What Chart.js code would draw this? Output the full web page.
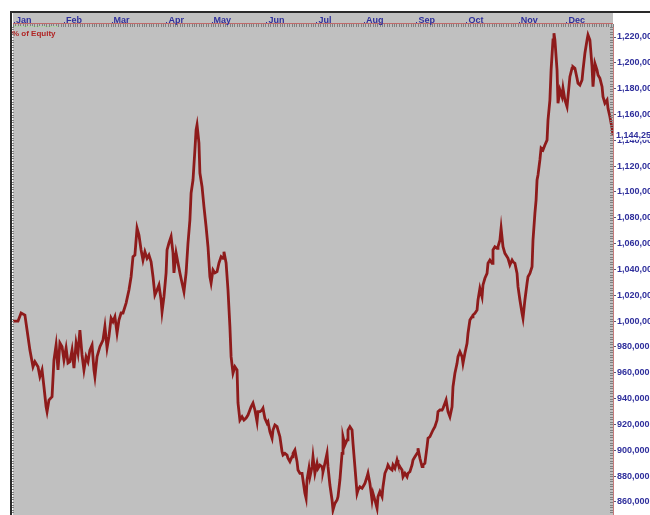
<!DOCTYPE html>
<html>
<head>
<meta charset="utf-8">
<title>% of Equity</title>
<script src="https://cdn.jsdelivr.net/npm/chart.js@4.4.1/dist/chart.umd.min.js"></script>
<style>
    html, body { margin: 0; padding: 0; background: #fff; }
    #wrap { width: 650px; height: 515px; }
</style>
</head>
<body>
<div id="wrap"><canvas id="equityChart" width="650" height="515"></canvas></div>
<script>
// month markers on the top axis (trading day where each month starts)
const monthLabels = ['Jan', 'Feb', 'Mar', 'Apr', 'May', 'Jun', 'Jul', 'Aug', 'Sep', 'Oct', 'Nov', 'Dec'];
const monthStartDay = [0, 21, 41, 64, 83, 106, 127, 147, 169, 190, 212, 232];

// right axis labels
const yTickValues = [860000, 880000, 900000, 920000, 940000, 960000, 980000, 1000000, 1020000, 1040000,
    1060000, 1080000, 1100000, 1120000, 1140000, 1160000, 1180000, 1200000, 1220000];

// equity curve
const tradingDay = [
    0, 2.1, 3.4, 5.0, 5.9, 7.1, 8.4, 9.2, 10.5, 11.3, 12.2, 13.0, 13.9, 14.3, 15.1, 16.4, 17.2, 18.1, 18.9, 19.7,
    20.6, 21.4, 22.3, 23.1, 23.9, 24.8, 25.6, 26.5, 27.3, 28.1, 29.0, 29.8, 30.7, 31.5, 32.3, 33.2, 34.0, 34.4, 35.3, 36.5,
    37.8, 38.6, 39.5, 40.3, 41.2, 42.0, 42.8, 43.7, 44.5, 45.4, 46.2, 47.5, 48.7, 49.6, 50.4, 51.2, 52.1, 52.9, 53.8, 54.6,
    55.4, 56.3, 57.1, 58.0, 58.8, 59.6, 60.5, 61.3, 62.2, 62.6, 63.4, 64.3, 64.7, 65.5, 66.4, 67.2, 67.6, 68.5, 69.3, 70.1,
    71.0, 71.8, 72.7, 73.5, 74.3, 74.8, 75.6, 76.4, 76.9, 77.3, 78.1, 78.5, 79.4, 80.2, 81.1, 81.9, 82.7, 83.2, 84.0, 84.8,
    85.7, 86.5, 87.4, 88.2, 88.6, 89.5, 90.3, 91.1, 91.6, 92.4, 93.2, 94.1, 94.5, 95.3, 96.2, 97.0, 97.9, 98.7, 100.0, 100.8,
    101.6, 102.5, 102.9, 103.7, 104.6, 105.0, 105.8, 106.7, 107.1, 107.9, 108.8, 109.2, 110.0, 110.9, 111.3, 112.1, 113.0, 113.4, 114.2, 115.1,
    115.5, 116.3, 117.2, 117.6, 118.4, 119.3, 119.7, 120.5, 121.4, 121.8, 122.6, 123.1, 123.5, 124.3, 124.7, 125.6, 126.0, 126.8, 127.7, 128.1,
    128.9, 129.8, 130.2, 131.0, 131.9, 132.3, 133.1, 134.0, 134.4, 135.2, 136.1, 136.5, 137.3, 138.2, 138.6, 139.4, 140.3, 140.7, 141.5, 142.4,
    142.8, 143.6, 144.5, 144.9, 145.7, 146.6, 147.0, 147.8, 148.7, 149.1, 149.9, 150.8, 151.2, 152.0, 152.9, 153.3, 154.1, 155.0, 155.4, 156.2,
    157.1, 157.5, 158.3, 159.2, 159.6, 160.4, 161.3, 161.7, 162.5, 163.4, 163.8, 164.6, 165.5, 165.9, 166.7, 167.6, 168.0, 168.8, 169.7, 170.1,
    170.9, 171.8, 172.2, 173.0, 173.9, 174.3, 175.1, 176.4, 177.2, 178.1, 178.5, 179.3, 180.2, 180.6, 181.4, 181.9, 182.7, 183.5, 184.4, 184.8,
    185.6, 186.5, 186.9, 187.7, 188.6, 189.0, 189.8, 190.7, 191.1, 191.9, 192.8, 193.2, 194.0, 194.9, 195.3, 196.1, 197.0, 197.4, 198.2, 199.1,
    199.5, 200.3, 201.2, 201.6, 202.4, 203.3, 203.7, 204.5, 205.0, 205.8, 206.6, 207.5, 207.9, 208.7, 209.6, 210.0, 210.8, 211.7, 212.1, 212.9,
    213.8, 214.2, 215.0, 215.9, 216.3, 217.1, 218.0, 218.4, 219.2, 219.7, 220.1, 220.5, 221.3, 221.8, 222.6, 223.4, 224.3, 224.7, 225.5, 226.0,
    226.8, 227.2, 227.6, 228.5, 228.9, 229.7, 230.6, 231.0, 231.8, 232.7, 233.1, 233.9, 234.8, 235.2, 236.0, 236.9, 237.3, 238.1, 239.0, 239.4,
    240.2, 241.1, 241.5, 242.3, 243.2, 243.6, 244.4, 245.3, 245.7, 246.5, 247.4, 247.8, 248.6, 249.5, 249.9, 250.7, 251.6, 252.0
];

const equity = [
    1000000, 1000000, 1006300, 1004700, 993100, 977600, 964700, 968600, 964700, 957000, 962200, 949200, 933700, 929900, 938900, 941500, 969900, 981500, 962200, 983100,
    980200, 969900, 979200, 967600, 968600, 977600, 963700, 983100, 975300, 993100, 973800, 962200, 972500, 968600, 977600, 981500, 962200, 957000, 972500, 980200,
    985400, 995700, 979200, 988000, 1002400, 999600, 1003400, 990800, 1000900, 1006300, 1006300, 1014000, 1024100, 1034400, 1049900, 1051200, 1072100, 1066700, 1055100, 1047300,
    1053700, 1048600, 1051200, 1046000, 1034400, 1020200, 1024100, 1028000, 1016400, 1007300, 1018900, 1037300, 1055100, 1060500, 1065400, 1052800, 1037300, 1052800, 1045000, 1037300,
    1029500, 1022800, 1037300, 1060500, 1078300, 1099200, 1109300, 1132500, 1148000, 1151900, 1137900, 1114700, 1104100, 1088600, 1073100, 1057600, 1034400, 1029500, 1039600, 1037300,
    1038300, 1045000, 1049900, 1048600, 1053700, 1045000, 1024100, 995700, 972500, 959800, 964700, 962200, 936600, 923400, 926000, 923400, 925000, 927300, 933700, 936600,
    931200, 922100, 929900, 929900, 931200, 932500, 924700, 920900, 922100, 914400, 909300, 915700, 919600, 918300, 915700, 910500, 898900, 896300, 897600, 896300,
    893800, 891200, 895000, 897600, 900200, 891200, 884700, 882200, 882200, 877000, 866700, 862800, 877000, 886000, 879500, 887300, 895000, 882200, 889900, 886000,
    888600, 887300, 883400, 889900, 897600, 887300, 873100, 861500, 853800, 858900, 861500, 864100, 877000, 897600, 910500, 904100, 908000, 915700, 918300, 915700,
    905400, 887300, 866700, 869200, 871800, 870600, 871800, 874400, 879500, 882200, 874400, 861500, 866700, 861500, 855100, 864100, 868000, 864100, 871800, 882200,
    886000, 888600, 886000, 884700, 888600, 886000, 892500, 889900, 887300, 884700, 879500, 882200, 879500, 882200, 883400, 888600, 892500, 895000, 897600, 901500,
    893800, 887300, 888600, 889900, 902800, 909300, 910500, 915700, 918300, 923400, 929900, 931200, 931200, 932500, 936400, 938900, 929900, 926000, 933700, 949200,
    959600, 967300, 972500, 976300, 972500, 967300, 975100, 982800, 990600, 1000900, 1003400, 1004700, 1006100, 1008600, 1016400, 1025400, 1018900, 1028000, 1033200, 1037000,
    1044800, 1047300, 1044800, 1055100, 1057600, 1056400, 1057600, 1062800, 1071900, 1057600, 1052500, 1049900, 1048600, 1043500, 1047300, 1046000, 1044800, 1037000, 1026700, 1016400,
    1006100, 1002200, 1016400, 1029300, 1034400, 1037000, 1042200, 1062800, 1083500, 1093800, 1109300, 1113200, 1124800, 1134000, 1132500, 1136400, 1140200, 1155700, 1171200, 1194400,
    1217700, 1222900, 1217700, 1194400, 1168700, 1179000, 1173800, 1180300, 1171200, 1166000, 1173800, 1189300, 1195800, 1197000, 1195800, 1188000, 1184200, 1182800, 1186700, 1194400,
    1207400, 1217700, 1221600, 1217700, 1197000, 1181500, 1199600, 1194400, 1190600, 1188000, 1181500, 1173800, 1168700, 1171200, 1164800, 1158300, 1149300, 1144250
];

const PLOT_BG = '#c0c0c0';
const LINE_RED = '#8e1b1b';
const AXIS_BLUE = '#2f2f9c';
const FONT_FAMILY = '"Liberation Sans", Arial, sans-serif';
const AXIS_FONT = { family: FONT_FAMILY, size: 9, weight: 'bold' };

const fmt = (v) => Math.round(v).toLocaleString('en-US');

// window frame, rulers, month band, series caption and last-value box
const framePlugin = {
    id: 'frame',
    beforeDraw(chart) {
        const { ctx, chartArea, scales } = chart;
        ctx.save();
        ctx.fillStyle = '#fff';
        ctx.fillRect(0, 0, chart.width, chart.height);
        ctx.fillStyle = PLOT_BG;
        ctx.fillRect(chartArea.left, scales.x.top, chartArea.right - chartArea.left, chartArea.bottom - scales.x.top);
        ctx.restore();
    },
    afterDraw(chart) {
        const { ctx, chartArea, scales } = chart;
        const { left, right, top, bottom } = chartArea;
        const x = scales.x;
        const y = scales.y;
        ctx.save();

        // rulers
        ctx.strokeStyle = '#808080';
        ctx.lineWidth = 1;
        ctx.beginPath();
        for (let d = 0; d <= 252; d++) {
            const px = Math.round(x.getPixelForValue(d)) + 0.5;
            ctx.moveTo(px, top - 1);
            ctx.lineTo(px, top + 2);
        }
        for (let v = 850000; v <= 1228000; v += 2000) {
            const py = Math.round(y.getPixelForValue(v)) + 0.5;
            ctx.moveTo(left - 2, py);
            ctx.lineTo(left + 1, py);
            ctx.moveTo(right - 3, py);
            ctx.lineTo(right, py);
        }
        ctx.stroke();

        // red rule under the month band
        ctx.strokeStyle = '#c06a6a';
        ctx.beginPath();
        ctx.moveTo(left, top - 1.5);
        ctx.lineTo(right, top - 1.5);
        ctx.stroke();

        // month labels, each starting just after its tick
        ctx.fillStyle = AXIS_BLUE;
        ctx.font = `bold 9px ${FONT_FAMILY}`;
        ctx.textAlign = 'left';
        ctx.textBaseline = 'alphabetic';
        monthLabels.forEach((m, i) => {
            const px = x.getPixelForValue(monthStartDay[i]);
            ctx.fillRect(Math.round(px) + 1, top - 3, 1, 1);
            ctx.fillText(m, px + 3, top - 2);
        });

        // dark window border
        ctx.strokeStyle = '#2a2a2a';
        ctx.lineWidth = 2;
        ctx.beginPath();
        ctx.moveTo(chart.width, x.top - 1);
        ctx.lineTo(left - 2, x.top - 1);
        ctx.lineTo(left - 2, bottom);
        ctx.stroke();

        // faint legend stroke and series caption
        ctx.strokeStyle = '#a6d39a';
        ctx.lineWidth = 1;
        ctx.setLineDash([2, 1]);
        ctx.beginPath();
        ctx.moveTo(left + 1, top + 1.5);
        ctx.lineTo(left + 46, top + 1.5);
        ctx.stroke();
        ctx.setLineDash([]);

        ctx.fillStyle = '#b02424';
        ctx.font = `bold 8px ${FONT_FAMILY}`;
        ctx.fillText('% of Equity', left - 1, top + 11);

        // last value box on the price axis
        const last = equity[equity.length - 1];
        const ly = y.getPixelForValue(last);
        ctx.fillStyle = '#fff';
        ctx.fillRect(right + 1, ly - 5, chart.width - right, 10);
        ctx.fillStyle = AXIS_BLUE;
        ctx.font = `bold 9px ${FONT_FAMILY}`;
        ctx.textBaseline = 'middle';
        ctx.fillText(fmt(last), right + 3, ly + 0.5);

        ctx.restore();
    }
};

const ctx = document.getElementById('equityChart').getContext('2d');

new Chart(ctx, {
    type: 'line',
    data: {
        datasets: [
            {
                label: '% of Equity',
                data: tradingDay.map((d, i) => ({ x: d, y: equity[i] })),
                borderColor: LINE_RED,
                borderWidth: 2.8,
                pointRadius: 0,
                tension: 0,
                fill: false,
            },
        ],
    },
    options: {
        responsive: false,
        animation: false,
        layout: { padding: { top: 13, left: 13, right: 0, bottom: 0 } },
        plugins: {
            legend: { display: false },
            tooltip: { enabled: false },
        },
        scales: {
            x: {
                type: 'linear',
                position: 'top',
                min: 0,
                max: 252,
                afterFit: (s) => {
                    s.height = 12;
                    s.paddingLeft = 0;
                    s.paddingRight = 0;
                },
                ticks: { display: false },
                grid: { display: false },
                border: { display: false },
            },
            y: {
                type: 'linear',
                position: 'right',
                min: 849900,
                max: 1229300,
                afterBuildTicks: (s) => {
                    s.ticks = yTickValues.map((v) => ({ value: v }));
                },
                afterFit: (s) => {
                    s.width = 37;
                    s.paddingTop = 0;
                    s.paddingBottom = 0;
                },
                ticks: {
                    padding: 1,
                    autoSkip: false,
                    color: AXIS_BLUE,
                    font: AXIS_FONT,
                    callback: (v) => fmt(v),
                },
                grid: { drawOnChartArea: false, tickLength: 3, color: '#5a5a7a' },
                border: { color: '#c47a7a', width: 1 },
            },
        },
    },
    plugins: [framePlugin],
});
</script>
</body>
</html>
